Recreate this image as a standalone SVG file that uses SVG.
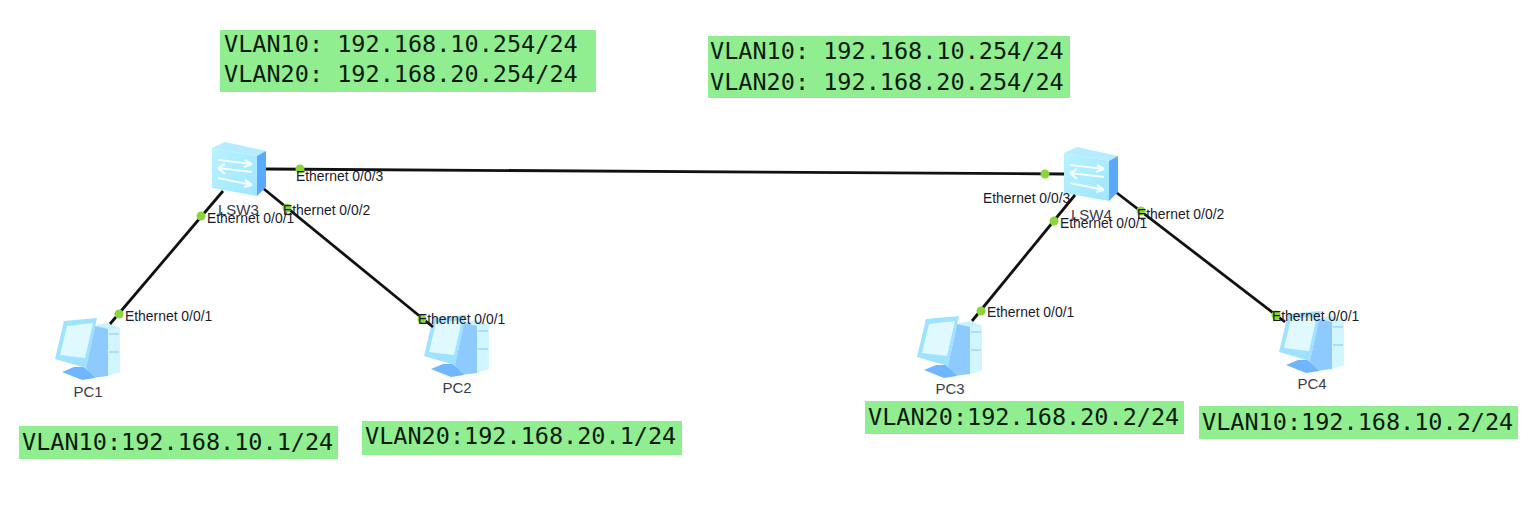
<svg xmlns="http://www.w3.org/2000/svg" width="1530" height="528" viewBox="0 0 1530 528">
<style>
.box{fill:#90ee90}
.mono{font-family:"DejaVu Sans Mono",monospace;font-size:23.5px;fill:#0c1a0c}
.lbl{font-family:"Liberation Sans",Arial,sans-serif;font-size:13.9px;fill:#1a1a2a}
.name{font-family:"Liberation Sans",Arial,sans-serif;font-size:15px;fill:#3a3a4a}
.link{stroke:#111;stroke-width:2.8;fill:none}
.dot{fill:#8ad63a}
</style>
<defs>
<linearGradient id="front" x1="0" y1="0" x2="1" y2="1"><stop offset="0" stop-color="#b8f2ff"/><stop offset="1" stop-color="#9fe6fd"/></linearGradient>
<g id="sw">
<path d="M212 148L225 142L266 151L257 156Z" fill="#b5ecff"/>
<path d="M212 148L257 156V196L212 188Z" fill="url(#front)"/>
<path d="M257 156L266 151V187L257 196Z" fill="#5aa9ff"/>
<path d="M218 160L252 164M252 164l-7-4M252 164l-8 3M252 172L218 168M218 168l7-4M218 168l7 6M218 178L252 185M252 185l-7-5M252 185l-8 2" stroke="#f2fdff" stroke-width="2.2" fill="none"/>
</g>
<g id="pc">
<path d="M97 325L108 323L120 328V372L92 378L84 372Z" fill="#c6f2ff"/>
<path d="M95 326L108 329V376L92 378L86 368Z" fill="#8fcaff"/>
<path d="M108 329L120 328V372L108 376Z" fill="#d2f6ff"/>
<path d="M109 334H119M109 352H119" stroke="#85c8ee" stroke-width="1"/>
<path d="M62 372L74 367H84L95 378L82 380Z" fill="#6fb6ff"/>
<path d="M55 359L64 321L97 318L86 368Z" fill="#9fe2ff"/>
<path d="M60 355L67 326L93 323L85 358Z" fill="#e0f9ff"/>
</g>
</defs>
<rect width="1530" height="528" fill="#fff"/>
<g id="LSW3"><use href="#sw"/><text class="name" x="218" y="215">LSW3</text></g>
<g id="LSW4"><use href="#sw" transform="translate(852,5)"/><text class="name" x="1071" y="220">LSW4</text></g>
<g id="PC1"><use href="#pc"/><text class="name" x="88" y="397" text-anchor="middle">PC1</text></g>
<g id="PC2"><use href="#pc" transform="translate(369,-3)"/><text class="name" x="457" y="393" text-anchor="middle">PC2</text></g>
<g id="PC3"><use href="#pc" transform="translate(862,-2)"/><text class="name" x="950" y="394" text-anchor="middle">PC3</text></g>
<g id="PC4"><use href="#pc" transform="translate(1224,-7)"/><text class="name" x="1312" y="389" text-anchor="middle">PC4</text></g>
<g id="connectors">
<path class="link" d="M266 169L1064 174"/>
<path class="link" d="M223 191L110 324"/>
<path class="link" d="M264 189L433 327"/>
<path class="link" d="M1075 195L972 321"/>
<path class="link" d="M1117 193L1285 322"/>
<g>
<circle class="dot" cx="300" cy="169" r="4.5"/><circle class="dot" cx="1045" cy="174" r="4.5"/>
<circle class="dot" cx="201" cy="216" r="4.5"/><circle class="dot" cx="119" cy="314" r="4.5"/>
<circle class="dot" cx="287" cy="208" r="4.5"/><circle class="dot" cx="422" cy="319" r="4.5"/>
<circle class="dot" cx="1054" cy="221" r="4.5"/><circle class="dot" cx="981" cy="311" r="4.5"/>
<circle class="dot" cx="1141" cy="211" r="4.5"/><circle class="dot" cx="1276" cy="315" r="4.5"/>
</g>
<g class="lbl">
<text x="296" y="181">Ethernet 0/0/3</text><text x="983" y="203">Ethernet 0/0/3</text>
<text x="207" y="223">Ethernet 0/0/1</text><text x="125" y="321">Ethernet 0/0/1</text>
<text x="283" y="215">Ethernet 0/0/2</text><text x="418" y="324">Ethernet 0/0/1</text>
<text x="1060" y="228">Ethernet 0/0/1</text><text x="987" y="317">Ethernet 0/0/1</text>
<text x="1137" y="219">Ethernet 0/0/2</text><text x="1272" y="321">Ethernet 0/0/1</text>
</g>
</g>
<g id="note-lsw3"><rect class="box" x="220" y="30" width="376" height="62"/>
<text class="mono" x="224" y="52">VLAN10: 192.168.10.254/24</text><text class="mono" x="224" y="82">VLAN20: 192.168.20.254/24</text></g>
<g id="note-lsw4"><rect class="box" x="708" y="36" width="362" height="62"/>
<text class="mono" x="710" y="59">VLAN10: 192.168.10.254/24</text><text class="mono" x="710" y="90">VLAN20: 192.168.20.254/24</text></g>
<g id="note-pc1"><rect class="box" x="19" y="426" width="319" height="33"/><text class="mono" x="22" y="450">VLAN10:192.168.10.1/24</text></g>
<g id="note-pc2"><rect class="box" x="362" y="421" width="320" height="34"/><text class="mono" x="365" y="444">VLAN20:192.168.20.1/24</text></g>
<g id="note-pc3"><rect class="box" x="865" y="401" width="319" height="33"/><text class="mono" x="868" y="425">VLAN20:192.168.20.2/24</text></g>
<g id="note-pc4"><rect class="box" x="1199" y="406" width="319" height="33"/><text class="mono" x="1202" y="430">VLAN10:192.168.10.2/24</text></g>
</svg>
